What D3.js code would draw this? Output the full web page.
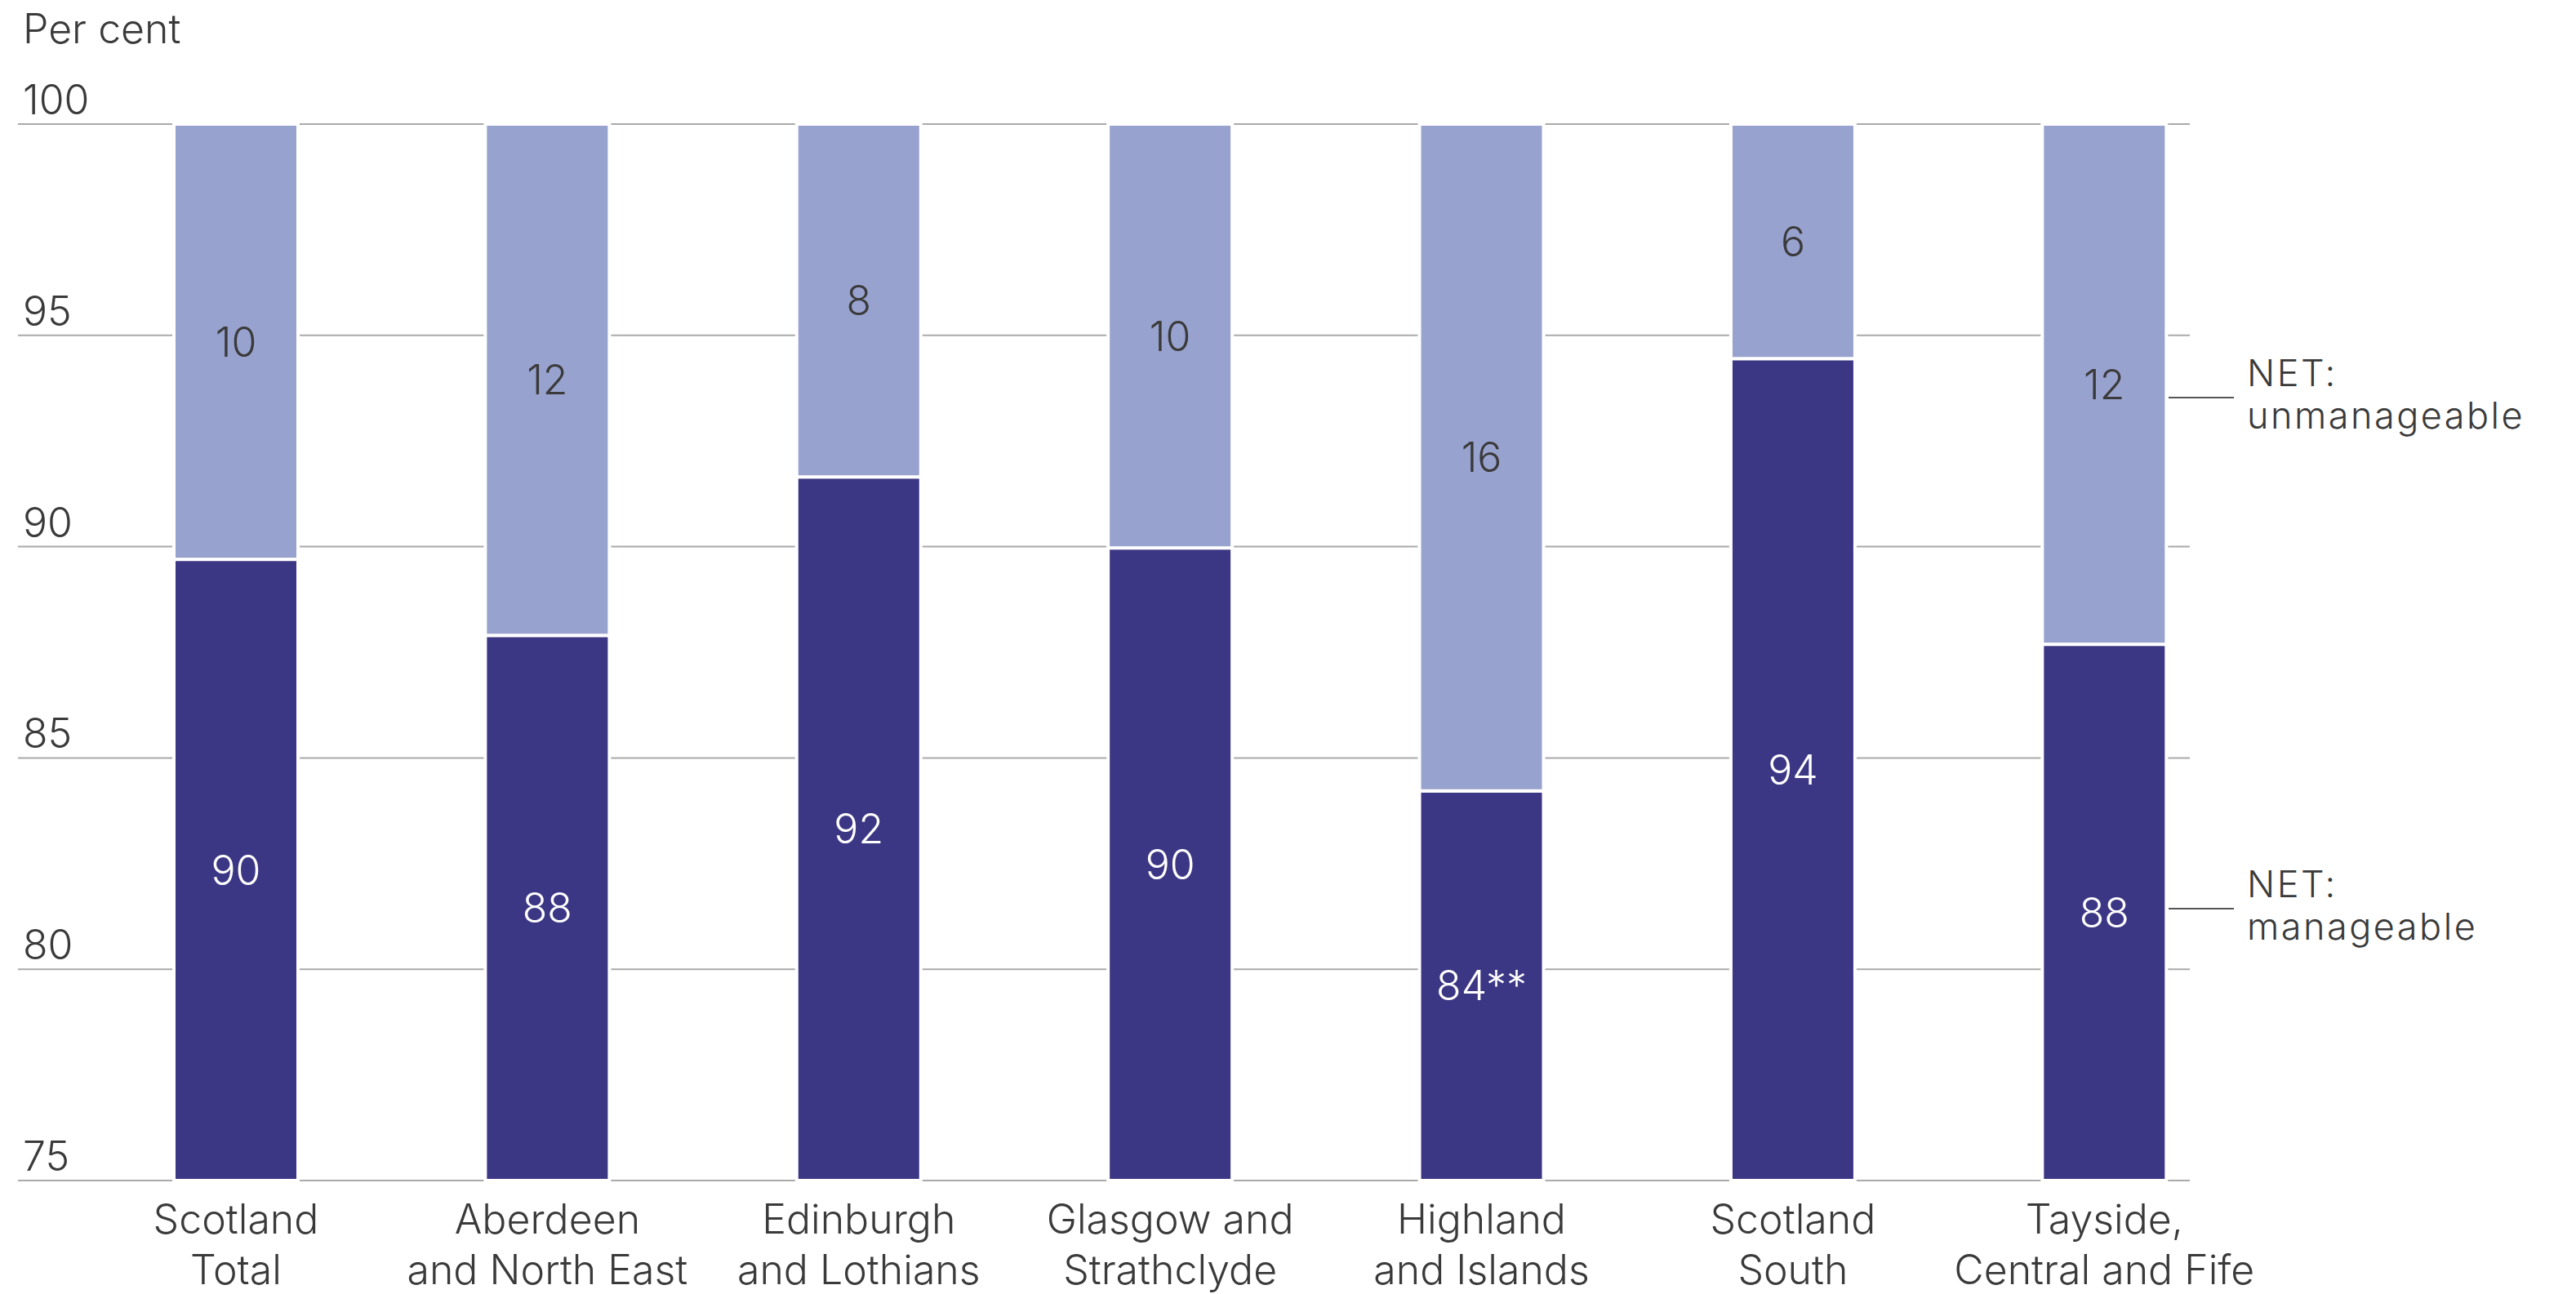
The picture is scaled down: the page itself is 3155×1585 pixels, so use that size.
<!DOCTYPE html>
<html><head><meta charset="utf-8">
<script src="https://cdn.jsdelivr.net/npm/d3@7"></script>
<style>
body{margin:0;background:#fff}
svg text{font-family:Inter,"Noto Sans",sans-serif;font-weight:300;fill:#3a3a3a}
</style>
</head><body>
<svg id="c" width="3155" height="1585"></svg>
<script>
const categories = [["Scotland","Total"],["Aberdeen","and North East"],["Edinburgh","and Lothians"],["Glasgow and","Strathclyde"],["Highland","and Islands"],["Scotland","South"],["Tayside,","Central and Fife"]];
const manageable = [89.7, 87.9, 91.65, 89.97, 84.22, 94.45, 87.69];
const unmanageable = [10.3, 12.1, 8.35, 10.03, 15.78, 5.55, 12.31];
const manageableLabels = ["90","88","92","90","84**","94","88"];
const unmanageableLabels = ["10","12","8","10","16","6","12"];
const yTicks = [75, 80, 85, 90, 95, 100];
const seriesNames = [["NET:","unmanageable"],["NET:","manageable"]];

const colDark = "#3c3784", colLight = "#98a2ce";
const svg = d3.select("#c");
const y = d3.scaleLinear().domain([75,100]).range([1446,152]);
const x = d3.scaleBand().domain(d3.range(categories.length)).range([98.3, 2768]).paddingInner(0.6015).paddingOuter(0.30075);

// gridlines
svg.append("g").selectAll("line").data(yTicks).join("line")
  .attr("x1",22).attr("x2",2682).attr("y1",d=>y(d)).attr("y2",d=>y(d))
  .attr("stroke","#aaaaaa").attr("stroke-width",2);
svg.append("g").selectAll("text").data(yTicks).join("text")
  .attr("x",28).attr("y",d=>y(d)-12).attr("font-size",50).text(d=>d);
svg.append("text").attr("x",28).attr("y",53).attr("font-size",50).text("Per cent");

const base = y.domain()[0];
const data = categories.map((c,i)=>({i, m:manageable[i], u:unmanageable[i]}));

const g = svg.append("g");
// dark segments
g.selectAll("rect.m").data(data).join("rect").attr("class","m")
  .attr("x",d=>x(d.i)).attr("width",x.bandwidth())
  .attr("y",d=>y(d.m)).attr("height",d=>y(base)-y(d.m))
  .attr("fill",colDark).attr("stroke","#fff").attr("stroke-width",4);
// light segments
g.selectAll("rect.u").data(data).join("rect").attr("class","u")
  .attr("x",d=>x(d.i)).attr("width",x.bandwidth())
  .attr("y",d=>y(d.m+d.u)).attr("height",d=>y(d.m)-y(d.m+d.u))
  .attr("fill",colLight).attr("stroke","#fff").attr("stroke-width",4);

// value labels
g.selectAll("text.m").data(data).join("text").attr("class","m")
  .attr("x",d=>x(d.i)+x.bandwidth()/2).attr("y",d=>y((base+d.m)/2))
  .attr("text-anchor","middle").attr("dominant-baseline","central")
  .attr("font-size",50).style("fill","#ffffff").text(d=>manageableLabels[d.i]);
g.selectAll("text.u").data(data).join("text").attr("class","u")
  .attr("x",d=>x(d.i)+x.bandwidth()/2).attr("y",d=>y(d.m+d.u/2))
  .attr("text-anchor","middle").attr("dominant-baseline","central")
  .attr("font-size",50).text(d=>unmanageableLabels[d.i]);

// x labels
const xl = svg.append("g").selectAll("text").data(categories).join("text")
  .attr("text-anchor","middle").attr("font-size",50);
xl.each(function(c,i){
  const t = d3.select(this);
  c.forEach((line,k)=>{
    t.append("tspan").attr("x",x(i)+x.bandwidth()/2).attr("y",1511+k*62).text(line);
  });
});

// legend
const legY = [487, 1113];
const lg = svg.append("g");
seriesNames.forEach((nm,k)=>{
  lg.append("line").attr("x1",2656).attr("x2",2736).attr("y1",legY[k]).attr("y2",legY[k])
    .attr("stroke","#555").attr("stroke-width",2);
  const t = lg.append("text").attr("font-size",45).attr("letter-spacing",2.5);
  nm.forEach((line,j)=>{
    t.append("tspan").attr("x",2752).attr("y",legY[k]-14+j*52).text(line);
  });
});
</script>
</body></html>
